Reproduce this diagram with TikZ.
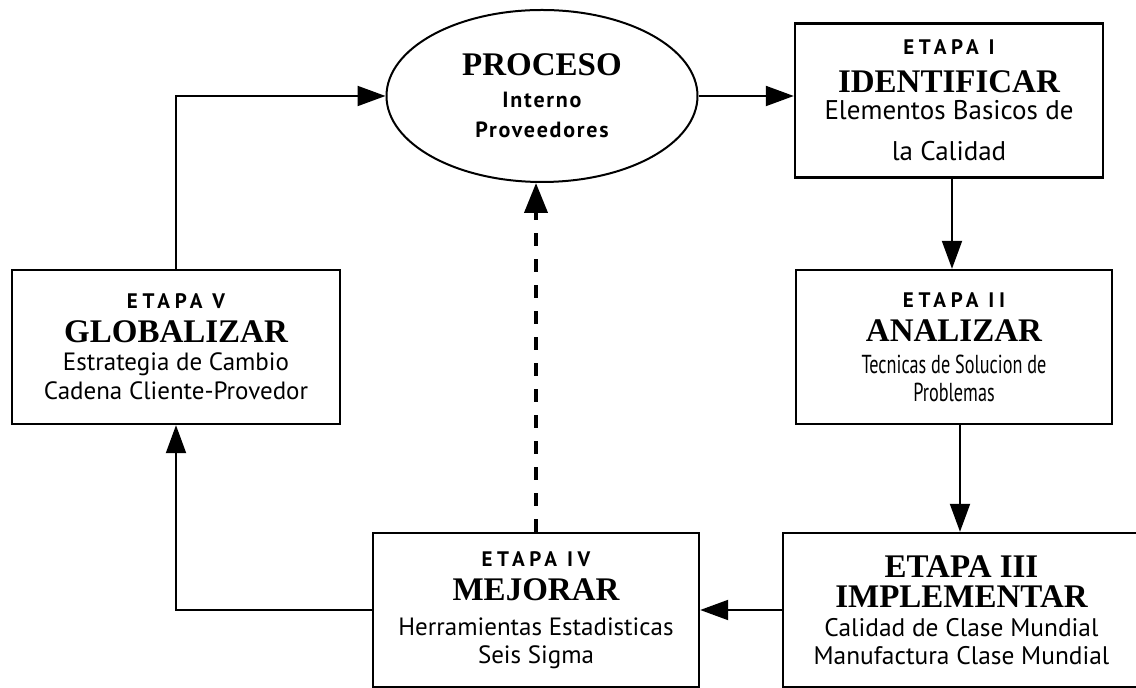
\documentclass[tikz,border=0pt]{standalone}
\usepackage{fontspec}
\setmainfont{Liberation Serif}
\newfontfamily\sansfont{PT Sans}
\newfontfamily\narrowfont[FakeStretch=0.7]{PT Sans}
\newfontfamily\etapafont[LetterSpace=22]{PT Sans}
\newfontfamily\procfont[LetterSpace=8]{PT Sans}
\usetikzlibrary{arrows.meta,shapes.geometric}
\newcommand{\titulo}[1]{{\fontsize{16.5}{0}\selectfont\bfseries #1}}
\newcommand{\etiqueta}[1]{{\etapafont\fontsize{10.5}{0}\selectfont\bfseries #1}}
\newcommand{\cuerpo}[2]{{\sansfont\fontsize{#1}{0}\selectfont #2}}
\tikzset{
  lineas/.style={font=\setlength{\baselineskip}{0pt}\setlength{\lineskiplimit}{-\maxdimen}},
  etapa/.style={draw, line width=1.2pt, rectangle, align=center, inner sep=0pt, lineas,
    minimum width=#1, minimum height=77pt},
  proceso/.style={draw, line width=1pt, ellipse, align=center, inner sep=0pt, lineas,
    minimum width=155.5pt, minimum height=86pt},
  flecha/.style={-{Triangle[length=14pt,width=10pt]}, line width=1pt},
  discontinua/.style={-{Triangle[length=15pt,width=11.5pt]}, line width=2pt,
    dash pattern=on 6.5pt off 6.5pt}
}
\begin{document}
\begin{tikzpicture}[x=0.5pt,y=-0.5pt]
\useasboundingbox (0,0) rectangle (1136,688);

% proceso central
\node[proceso] (proc) at (542,96) {\titulo{PROCESO}\\[16pt]
  {\procfont\fontsize{11}{0}\selectfont\bfseries Interno}\\[15pt]
  {\procfont\fontsize{11}{0}\selectfont\bfseries Proveedores}};

% etapas
\node[etapa=154pt] (e1) at (949,100.5) {\etiqueta{ETAPA I}\\[19pt]
  \titulo{IDENTIFICAR}\\[13.5pt]
  \cuerpo{13.5}{Elementos Basicos de}\\[20.5pt]
  \cuerpo{13.5}{la Calidad}};
\node[etapa=158pt] (e2) at (954,347) {\etiqueta{ETAPA II}\\[17pt]
  \titulo{ANALIZAR}\\[16pt]
  {\narrowfont\fontsize{13}{0}\selectfont Tecnicas de Solucion de}\\[14pt]
  {\narrowfont\fontsize{13}{0}\selectfont Problemas}};
\node[etapa=178.5pt] (e3) at (961.5,610) {\titulo{ETAPA III}\\[15pt]
  \titulo{IMPLEMENTAR}\\[14.5pt]
  \cuerpo{12.7}{Calidad de Clase Mundial}\\[14pt]
  \cuerpo{12.7}{Manufactura Clase Mundial}};
\node[etapa=163pt] (e4) at (536,610) {\etiqueta{ETAPA IV}\\[17pt]
  \titulo{MEJORAR}\\[17.5pt]
  \cuerpo{12.5}{Herramientas Estadisticas}\\[14pt]
  \cuerpo{12.5}{Seis Sigma}};
\node[etapa=164pt] (e5) at (176,347) {\etiqueta{ETAPA V}\\[17pt]
  \titulo{GLOBALIZAR}\\[14pt]
  \cuerpo{12.5}{Estrategia de Cambio}\\[14.5pt]
  \cuerpo{12.5}{Cadena Cliente-Provedor}};

% conexiones
\draw[flecha] (proc.east) -- (proc.east -| e1.west);
\draw[flecha] ([xshift=1.5pt]e1.south) -- ([xshift=1.5pt]e1.south |- e2.north);
\draw[flecha] ([xshift=3pt]e2.south) -- ([xshift=3pt]e2.south |- e3.north);
\draw[flecha] (e3.west) -- (e4.east);
\draw[flecha] (e4.west) -| (e5.south);
\draw[flecha] (e5.north) |- (proc.west);
\draw[discontinua] (e4.north) -- (e4.north |- proc.south);
\end{tikzpicture}
\end{document}
